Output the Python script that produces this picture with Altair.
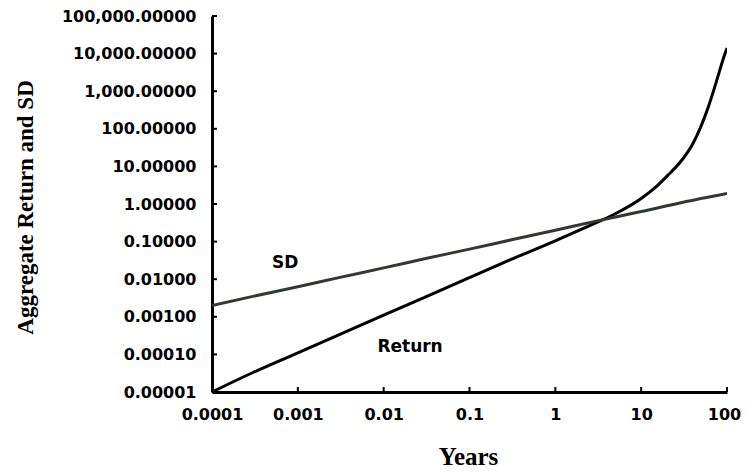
import altair as alt
import pandas as pd

# Values
ret_years = [0.0001, 0.0003, 0.001, 0.003, 0.01, 0.03, 0.1, 0.3, 1, 2, 3, 5, 10, 15, 20, 30, 40, 50, 60, 70, 80, 90, 100]
ret_vals = [0.00001, 0.000033, 0.00011, 0.00033, 0.0011, 0.0033, 0.011, 0.033, 0.105, 0.21, 0.32, 0.55, 1.4, 2.9, 5.5, 15, 40, 120, 360, 1050, 2900, 7000, 14000]

sd_years = [0.0001, 0.0003, 0.001, 0.003, 0.01, 0.03, 0.1, 0.3, 1, 3, 10, 30, 100]
sd_vals = [0.002, 0.0035, 0.0063, 0.011, 0.02, 0.035, 0.063, 0.11, 0.2, 0.35, 0.63, 1.1, 1.9]

x_ticks = [0.0001, 0.001, 0.01, 0.1, 1, 10, 100]
y_ticks = [0.00001, 0.0001, 0.001, 0.01, 0.1, 1, 10, 100, 1000, 10000, 100000]

label_text = ["SD", "Return"]
label_x = [0.00071, 0.0203]
label_y = [0.027, 0.000157]

series_names = ["Return", "SD"]
series_colors = ["#000000", "#2f3b31"]

W, H = 515, 376

df = pd.concat([
    pd.DataFrame({"t": ret_years, "v": ret_vals, "s": "Return"}),
    pd.DataFrame({"t": sd_years, "v": sd_vals, "s": "SD"}),
])

xscale = alt.Scale(type="log", domain=[0.0001, 100], nice=False)
yscale = alt.Scale(type="log", domain=[0.00001, 100000], nice=False)

lines = alt.Chart(df).mark_line(strokeWidth=3, interpolate="monotone", clip=True).encode(
    x=alt.X("t:Q", scale=xscale,
            axis=alt.Axis(values=x_ticks, format="~g", title="Years", labelOverlap=False,
                          labelFlush=False,
                          labelOffset={"condition": {"test": "datum.value >= 99", "value": -3}, "value": 0},
                          titleFont="Liberation Serif", titleFontSize=25, titleFontWeight="bold",
                          titleX=256, titleY=64, titleAnchor="middle", titleAlign="center",
                          titleBaseline="middle", labelPadding=14)),
    y=alt.Y("v:Q", scale=yscale,
            axis=alt.Axis(values=y_ticks, format=",.5f", title="Aggregate Return and SD",
                          labelOverlap=False, labelFlush=False,
                          titleFont="Liberation Serif", titleFontSize=23, titleFontWeight="bold",
                          titleAngle=-90, titleX=-187, titleY=191, titleAlign="center",
                          titleBaseline="middle", labelPadding=16)),
    color=alt.Color("s:N", scale=alt.Scale(domain=series_names, range=series_colors), legend=None),
    detail="s:N",
)

xt = alt.Chart(pd.DataFrame({"t": x_ticks})).mark_rule(color="black", strokeWidth=2).encode(
    x=alt.X("t:Q", scale=xscale), y=alt.value(H), y2=alt.value(H - 5)
)
yt = alt.Chart(pd.DataFrame({"v": y_ticks})).mark_rule(color="black", strokeWidth=2).encode(
    y=alt.Y("v:Q", scale=yscale), x=alt.value(0), x2=alt.value(5)
)

labels = alt.Chart(pd.DataFrame({"t": label_x, "v": label_y, "txt": label_text})).mark_text(
    font="DejaVu Sans", fontWeight="bold", fontSize=17, color="black"
).encode(
    x=alt.X("t:Q", scale=xscale), y=alt.Y("v:Q", scale=yscale), text="txt:N"
)

chart = alt.layer(lines, xt, yt, labels).properties(
    width=W, height=H,
    autosize=alt.AutoSizeParams(type="none"),
    padding={"left": 204, "top": 8, "right": 14, "bottom": 80},
).configure_view(stroke=None).configure_axis(
    grid=False, domainColor="black", domainWidth=3, tickSize=0,
    labelFont="DejaVu Sans", labelFontWeight="bold", labelFontSize=16, labelColor="black",
    titleColor="black",
)

chart.save("out.html", embed_options={"renderer": "svg", "actions": False})
